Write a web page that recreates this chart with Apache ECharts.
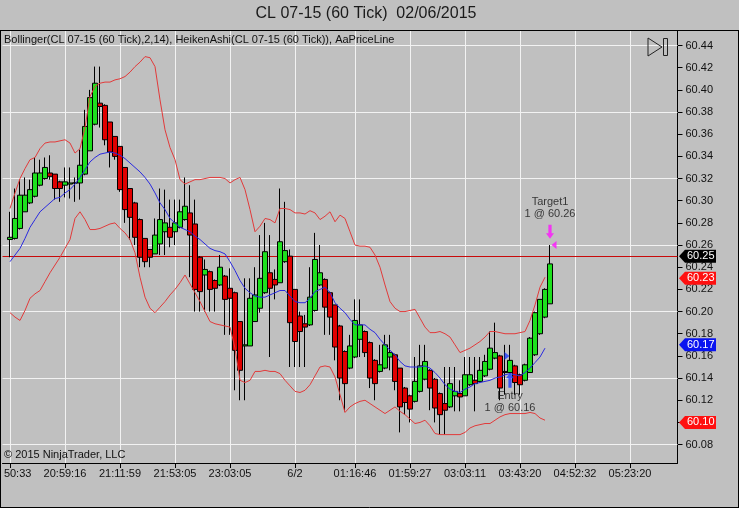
<!DOCTYPE html>
<html><head><meta charset="utf-8">
<script src="https://cdn.jsdelivr.net/npm/echarts@6/dist/echarts.min.js"></script>
<style>html,body{margin:0;padding:0;background:#C0C0C0;}#c{width:739px;height:508px;}</style>
</head><body><div id="c"></div>
<script>
const chartTitle = 'CL 07-15 (60 Tick)  02/06/2015';
const indicatorText = 'Bollinger(CL 07-15 (60 Tick),2,14), HeikenAshi(CL 07-15 (60 Tick)), AaPriceLine';
const copyrightText = '\u00A9 2015 NinjaTrader, LLC';

const timeLabels = ['20:50:33','20:59:16','21:11:59','21:53:05','23:03:05','6/2','01:16:46','01:59:27','03:03:11','03:43:20','04:52:32','05:23:20'];
const timeLabelBars = [0,11,22,33,44,57,69,80,91,102,113,124];
const leadSlots = 1;
const slotCount = 135;

const yTickValues = [60.08,60.10,60.12,60.14,60.16,60.18,60.20,60.22,60.24,60.26,60.28,60.30,60.32,60.34,60.36,60.38,60.40,60.42,60.44];
const yGridValues = [60.08,60.14,60.20,60.26,60.32,60.38,60.44];

const haOpen = [
60.265,60.266,60.275,60.290,60.298,60.304,60.314,60.320,60.325,60.324,
60.317,60.314,60.315,60.316,60.316,60.324,60.345,60.369,60.388,60.386,
60.371,60.358,60.349,60.330,60.311,60.298,60.283,60.266,60.256,60.252,
60.261,60.272,60.276,60.272,60.276,60.283,60.289,60.279,60.249,60.233,
60.236,60.228,60.224,60.232,60.221,60.217,60.191,60.169,60.169,60.191,
60.203,60.217,60.235,60.229,60.226,60.245,60.250,60.220,60.196,60.189,
60.188,60.201,60.224,60.229,60.217,60.206,60.187,60.164,60.149,60.159,
60.175,60.182,60.172,60.156,60.146,60.149,60.159,60.161,60.149,60.131,
60.124,60.119,60.128,60.139,60.147,60.139,60.126,60.117,60.114,60.124,
60.126,60.124,60.134,60.138,60.137,60.142,60.148,60.158,60.160,60.146,
60.145,60.151,60.143,60.138,60.145,60.161,60.180,60.195,60.207];
const haClose = [
60.267,60.284,60.305,60.305,60.310,60.325,60.325,60.330,60.322,60.311,
60.311,60.317,60.316,60.316,60.332,60.367,60.393,60.406,60.385,60.355,
60.344,60.340,60.310,60.292,60.285,60.267,60.249,60.245,60.249,60.269,
60.283,60.280,60.267,60.280,60.290,60.295,60.269,60.220,60.218,60.238,
60.220,60.221,60.240,60.211,60.212,60.165,60.147,60.170,60.212,60.215,
60.230,60.254,60.221,60.224,60.263,60.255,60.190,60.173,60.182,60.186,
60.213,60.247,60.235,60.204,60.195,60.168,60.140,60.135,60.169,60.192,
60.188,60.163,60.140,60.135,60.152,60.170,60.163,60.137,60.114,60.118,
60.112,60.137,60.151,60.155,60.131,60.113,60.107,60.111,60.135,60.128,
60.123,60.143,60.143,60.135,60.147,60.155,60.167,60.163,60.131,60.145,
60.156,60.136,60.134,60.152,60.176,60.199,60.211,60.220,60.243];
const haLow = [
60.249,60.265,60.274,60.290,60.297,60.303,60.313,60.319,60.319,60.301,
60.299,60.303,60.302,60.299,60.301,60.323,60.345,60.368,60.366,60.350,
60.330,60.337,60.308,60.280,60.265,60.260,60.240,60.240,60.240,60.252,
60.251,60.251,60.258,60.260,60.275,60.282,60.231,60.200,60.200,60.200,
60.200,60.200,60.223,60.179,60.179,60.129,60.120,60.120,60.169,60.191,
60.199,60.216,60.159,60.211,60.226,60.244,60.150,60.150,60.150,60.150,
60.187,60.200,60.223,60.179,60.179,60.156,60.120,60.110,60.148,60.158,
60.159,60.159,60.131,60.120,60.145,60.148,60.147,60.129,60.091,60.107,
60.100,60.118,60.127,60.138,60.111,60.100,60.089,60.089,60.113,60.110,
60.110,60.124,60.133,60.110,60.136,60.141,60.147,60.157,60.120,60.125,
60.145,60.125,60.125,60.137,60.145,60.160,60.179,60.194,60.207];
const haHigh = [
60.290,60.311,60.319,60.321,60.319,60.339,60.337,60.339,60.341,60.324,
60.318,60.330,60.330,60.321,60.346,60.382,60.400,60.421,60.421,60.387,
60.371,60.358,60.349,60.330,60.311,60.299,60.284,60.266,60.256,60.284,
60.311,60.310,60.301,60.301,60.301,60.321,60.314,60.301,60.250,60.247,
60.237,60.229,60.251,60.233,60.239,60.218,60.191,60.230,60.230,60.240,
60.269,60.280,60.269,60.238,60.311,60.299,60.256,60.220,60.200,60.197,
60.240,60.271,60.260,60.230,60.218,60.206,60.188,60.165,60.179,60.211,
60.211,60.183,60.173,60.157,60.170,60.179,60.179,60.162,60.149,60.132,
60.125,60.159,60.170,60.170,60.148,60.140,60.127,60.150,60.150,60.150,
60.138,60.159,60.159,60.159,60.159,60.161,60.182,60.190,60.161,60.170,
60.170,60.152,60.144,60.153,60.177,60.200,60.211,60.221,60.260];

const upperBand = [
60.293,60.307,60.320,60.329,60.337,60.339,60.347,60.352,60.353,60.353,
60.354,60.355,60.352,60.343,60.347,60.366,60.394,60.403,60.406,60.407,
60.407,60.409,60.410,60.412,60.416,60.421,60.425,60.430,60.429,60.421,
60.391,60.364,60.348,60.337,60.319,60.315,60.317,60.319,60.319,60.320,
60.321,60.321,60.321,60.320,60.316,60.319,60.321,60.310,60.292,60.272,
60.277,60.284,60.283,60.280,60.293,60.293,60.292,60.289,60.289,60.288,
60.291,60.289,60.283,60.286,60.290,60.281,60.287,60.284,60.272,60.260,
60.259,60.259,60.258,60.251,60.240,60.224,60.209,60.203,60.200,60.200,
60.201,60.202,60.194,60.186,60.181,60.181,60.182,60.180,60.177,60.170,
60.163,60.165,60.167,60.170,60.173,60.177,60.182,60.182,60.181,60.180,
60.180,60.180,60.181,60.182,60.192,60.206,60.222,60.231];
const middleBand = [
60.245,60.251,60.257,60.266,60.276,60.283,60.290,60.294,60.298,60.302,
60.303,60.307,60.310,60.315,60.321,60.328,60.335,60.339,60.342,60.343,
60.344,60.343,60.341,60.338,60.334,60.330,60.326,60.321,60.315,60.307,
60.298,60.292,60.284,60.280,60.276,60.274,60.272,60.268,60.265,60.261,
60.257,60.255,60.254,60.252,60.245,60.237,60.228,60.221,60.217,60.214,
60.213,60.213,60.215,60.217,60.219,60.219,60.214,60.209,60.208,60.208,
60.212,60.218,60.220,60.222,60.217,60.208,60.203,60.199,60.193,60.188,
60.188,60.188,60.184,60.181,60.175,60.170,60.165,60.161,60.155,60.151,
60.150,60.150,60.150,60.151,60.149,60.145,60.140,60.134,60.130,60.128,
60.127,60.130,60.132,60.135,60.136,60.137,60.138,60.140,60.141,60.143,
60.144,60.143,60.142,60.145,60.149,60.154,60.159,60.167];
const lowerBand = [
60.199,60.195,60.192,60.201,60.212,60.216,60.219,60.227,60.235,60.242,
60.249,60.257,60.265,60.284,60.290,60.283,60.274,60.274,60.275,60.277,
60.279,60.280,60.275,60.271,60.265,60.253,60.231,60.213,60.203,60.199,
60.204,60.209,60.215,60.220,60.226,60.233,60.225,60.217,60.209,60.200,
60.191,60.189,60.188,60.187,60.186,60.167,60.138,60.136,60.138,60.146,
60.146,60.147,60.146,60.146,60.144,60.138,60.133,60.128,60.127,60.129,
60.134,60.142,60.150,60.151,60.150,60.141,60.125,60.109,60.114,60.117,
60.119,60.120,60.117,60.114,60.111,60.108,60.111,60.114,60.110,60.107,
60.103,60.099,60.100,60.102,60.097,60.090,60.089,60.089,60.089,60.089,
60.089,60.091,60.095,60.097,60.098,60.099,60.099,60.102,60.105,60.107,
60.108,60.108,60.108,60.108,60.109,60.108,60.104,60.102];

const lastPrice = 60.25;
const priceTagValues = [60.25, 60.23, 60.17, 60.10];
const priceTagColors = ['#000000', '#FF1010', '#0A14F0', '#FF1010'];

const entryBar = 100, entryPrice = 60.16, entryArrowValue = 60.138;
const targetBar = 108, targetPrice = 60.26, targetArrowValue = 60.272;
const entryText = 'Entry\n1 @ 60.16';
const targetText = 'Target1\n1 @ 60.26';

const FONT = '"Liberation Sans", Arial, sans-serif';

const categories = [];
for (let k = 0; k < slotCount; k++) categories.push('');
timeLabelBars.forEach((b, j) => { categories[b + leadSlots] = timeLabels[j]; });

const candleData = haOpen.map((o, i) => [i + leadSlots, o, haClose[i], haLow[i], haHigh[i]]);
const toLine = arr => arr.map((v, i) => [i + leadSlots, v]);

const chart = echarts.init(document.getElementById('c'), null, {renderer: 'canvas'});
const showLabel = (i, v) => v !== '';

const option = {
  animation: false,
  backgroundColor: '#C0C0C0',
  grid: {left: 2.5, top: 31, width: 675, height: 432, containLabel: false, outerBoundsMode: 'none'},
  xAxis: {
    type: 'category', data: categories, boundaryGap: true,
    axisLine: {show: true, lineStyle: {color: '#000', width: 1}},
    axisTick: {show: true, alignWithLabel: true, interval: showLabel, length: 5, lineStyle: {color: '#000'}},
    axisLabel: {interval: showLabel, margin: 5, color: '#111', fontSize: 11, fontFamily: FONT, hideOverlap: false},
    splitLine: {show: false}
  },
  yAxis: {
    type: 'value', position: 'right', min: 60.0634, max: 60.4531, scale: true,
    axisLine: {show: true, lineStyle: {color: '#000', width: 1}},
    axisTick: {show: true, customValues: yTickValues, length: 5, lineStyle: {color: '#000'}},
    axisLabel: {customValues: yTickValues, formatter: v => Number(v).toFixed(2), margin: 8, color: '#111', fontSize: 11, fontFamily: FONT},
    splitLine: {show: false}
  },
  series: [
    {
      type: 'line', data: toLine(upperBand), showSymbol: false, symbol: 'none', z: 4,
      lineStyle: {color: '#E23A3A', width: 1}, silent: true,
      markLine: {
        silent: true, symbol: 'none', z: 1, label: {show: false},
        lineStyle: {color: '#F2F2F2', width: 1, type: 'solid'},
        data: yGridValues.map(v => ({yAxis: v})).concat(timeLabelBars.map(b => ({xAxis: b + leadSlots})))
      }
    },
    {
      type: 'line', data: toLine(lowerBand), showSymbol: false, symbol: 'none', z: 4,
      lineStyle: {color: '#E23A3A', width: 1}, silent: true,
      markLine: {
        silent: true, symbol: 'none', z: 2, label: {show: false},
        lineStyle: {color: '#C80A0A', width: 1, type: 'solid'},
        data: [{yAxis: lastPrice}]
      }
    },
    {
      type: 'line', data: toLine(middleBand), showSymbol: false, symbol: 'none', z: 4,
      lineStyle: {color: '#2A2AE0', width: 1}, silent: true
    },
    {
      type: 'candlestick', data: candleData, encode: {x: 0, y: [1, 2, 3, 4]}, z: 3, barWidth: 5, barMaxWidth: 5, silent: true,
      itemStyle: {color: '#1EE01E', color0: '#E00000', borderColor: '#000', borderColor0: '#000', borderColorDoji: '#000', borderWidth: 1}
    },
    {
      type: 'scatter', z: 10, silent: true,
      data: [
        {value: [entryBar + leadSlots, entryArrowValue], symbol: 'path://M5,0L10,5.5L7,5.5L7,15L3,15L3,5.5L0,5.5Z', symbolSize: [8, 15], itemStyle: {color: '#1E3CFF'},
          label: {show: true, position: 'bottom', distance: 2, formatter: entryText, color: '#111', fontSize: 11, lineHeight: 12, fontFamily: FONT, align: 'center'}},
        {value: [entryBar + leadSlots, entryPrice], symbol: 'path://M0,0L8,5L0,10Z', symbolSize: [5, 8], symbolOffset: [-3, 0], itemStyle: {color: '#1E3CFF'}},
        {value: [targetBar + leadSlots, targetArrowValue], symbol: 'path://M3,0L7,0L7,9L10,9L5,15L0,9L3,9Z', symbolSize: [8, 14], itemStyle: {color: '#FF10FF'},
          label: {show: true, position: 'top', distance: 5, formatter: targetText, color: '#111', fontSize: 11, lineHeight: 12, fontFamily: FONT, align: 'center'}},
        {value: [targetBar + leadSlots, targetPrice], symbol: 'path://M8,0L0,5L8,10Z', symbolSize: [5, 8], symbolOffset: [4, 0], itemStyle: {color: '#FF10FF'}}
      ]
    }
  ]
};
chart.setOption(option);

const g = [];
g.push({type: 'text', x: 366, y: 14, z: 50, style: {text: chartTitle, fill: '#1a1a1a', font: '16px ' + FONT, align: 'center', verticalAlign: 'middle'}});
g.push({type: 'text', x: 4, y: 40, z: 50, style: {text: indicatorText, fill: '#111', font: '11px ' + FONT, verticalAlign: 'middle'}});
g.push({type: 'text', x: 4, y: 455, z: 50, style: {text: copyrightText, fill: '#111', font: '11px ' + FONT, verticalAlign: 'middle'}});
g.push({type: 'polygon', z: 50, shape: {points: [[648, 38], [662, 47], [648, 56]]}, style: {fill: 'none', stroke: '#222', lineWidth: 1}});
g.push({type: 'rect', z: 50, shape: {x: 663.5, y: 38.5, width: 4, height: 17}, style: {fill: 'none', stroke: '#222', lineWidth: 1}});
// frame
g.push({type: 'rect', z: 60, shape: {x: 0, y: 464, width: 3, height: 40}, style: {fill: '#C0C0C0'}});
g.push({type: 'line', z: 61, shape: {x1: 0, y1: 30.5, x2: 739, y2: 30.5}, style: {stroke: '#000', lineWidth: 1}});
g.push({type: 'line', z: 61, shape: {x1: 0.5, y1: 30, x2: 0.5, y2: 508}, style: {stroke: '#000', lineWidth: 1}});
g.push({type: 'line', z: 61, shape: {x1: 738.5, y1: 30, x2: 738.5, y2: 508}, style: {stroke: '#000', lineWidth: 1}});
g.push({type: 'line', z: 61, shape: {x1: 0, y1: 507.5, x2: 739, y2: 507.5}, style: {stroke: '#000', lineWidth: 1}});
priceTagValues.forEach((v, j) => {
  const y = chart.convertToPixel({yAxisIndex: 0}, v);
  g.push({type: 'polygon', z: 70, shape: {points: [[679, y], [685, y - 6.5], [716, y - 6.5], [716, y + 6.5], [685, y + 6.5]]}, style: {fill: priceTagColors[j]}});
  g.push({type: 'text', z: 71, x: 687, y: y, style: {text: v.toFixed(2), fill: '#fff', font: '11px ' + FONT, verticalAlign: 'middle'}});
});
chart.setOption({graphic: {elements: g}});
</script>
</body></html>
